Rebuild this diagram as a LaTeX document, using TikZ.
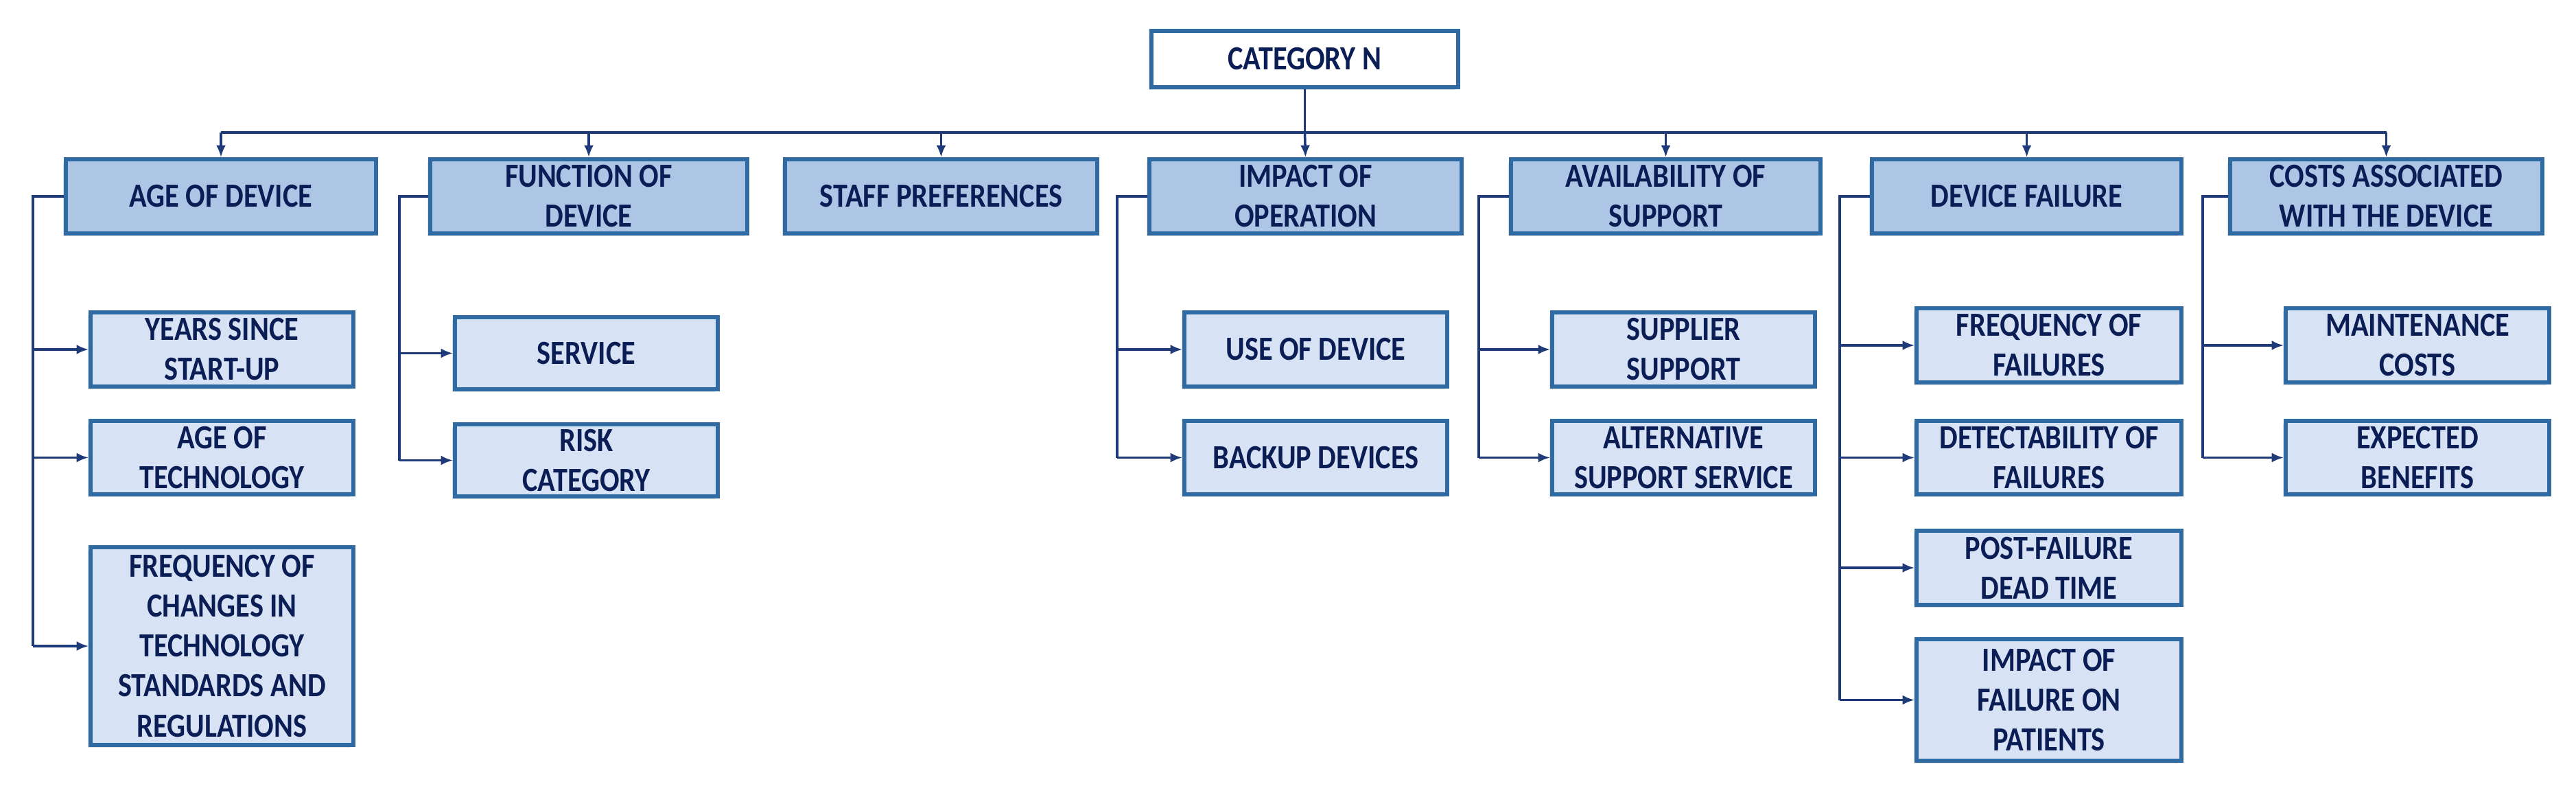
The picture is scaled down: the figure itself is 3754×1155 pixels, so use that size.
\documentclass[tikz,border=0pt]{standalone}
\usepackage{fontspec}
\setmainfont{Carlito}[FakeStretch=0.86]
\usetikzlibrary{arrows.meta}
\definecolor{topf}{HTML}{AEC6E6}
\definecolor{subf}{HTML}{D7E3F4}
\definecolor{bord}{HTML}{2F6AA3}
\definecolor{txt}{HTML}{0B1D55}
\definecolor{ln}{HTML}{1E3A78}
\newcommand\mybox[7]{\node[#1,minimum width={(#4-#3)*0.01cm},minimum height={(#6-#5)*0.01cm}] (#2) at ({(#3+#4)/2},{(#5+#6)/2}) {#7};}
\begin{document}
\begin{tikzpicture}[x=0.01cm,y=-0.01cm,
 base/.style={draw=bord,line width=1.6pt,inner sep=0pt,align=center,text=txt,
   font=\fontsize{14}{16.5}\selectfont\bfseries,
   preaction={fill=black!25,opacity=0.5,transform canvas={xshift=-1.2pt,yshift=-1.2pt}}},
 top/.style={base,fill=topf},
 sub/.style={base,fill=subf},
 root/.style={base,fill=white},
 conn/.style={draw=ln,line width=1pt},
 arr/.style={conn,-{Latex[length=5pt,width=4pt]}}]
\useasboundingbox (0,0) rectangle (3754,1155);
\mybox{root}{cat}{1678}{2125}{45}{127}{CATEGORY N}
\mybox{top}{age}{96}{548}{232}{340}{AGE OF DEVICE}
\mybox{top}{fun}{627}{1089}{232}{340}{FUNCTION OF\\DEVICE}
\mybox{top}{sta}{1144}{1599}{232}{340}{STAFF PREFERENCES}
\mybox{top}{imp}{1675}{2130}{232}{340}{IMPACT OF\\OPERATION}
\mybox{top}{ava}{2202}{2653}{232}{340}{AVAILABILITY OF\\SUPPORT}
\mybox{top}{dev}{2728}{3179}{232}{340}{DEVICE FAILURE}
\mybox{top}{cos}{3250}{3705}{232}{340}{COSTS ASSOCIATED\\WITH THE DEVICE}
% children
\mybox{sub}{a1}{132}{515}{455}{563}{YEARS SINCE\\START-UP}
\mybox{sub}{a2}{132}{515}{613}{720}{AGE OF\\TECHNOLOGY}
\mybox{sub}{a3}{132}{515}{797}{1085}{FREQUENCY OF\\CHANGES IN\\TECHNOLOGY\\STANDARDS AND\\REGULATIONS}
\mybox{sub}{f1}{663}{1046}{462}{567}{SERVICE}
\mybox{sub}{f2}{663}{1046}{618}{723}{RISK\\CATEGORY}
\mybox{sub}{i1}{1726}{2109}{455}{563}{USE OF DEVICE}
\mybox{sub}{i2}{1726}{2109}{613}{720}{BACKUP DEVICES}
\mybox{sub}{v1}{2262}{2645}{455}{563}{SUPPLIER\\SUPPORT}
\mybox{sub}{v2}{2262}{2645}{613}{720}{ALTERNATIVE\\SUPPORT SERVICE}
\mybox{sub}{d1}{2793}{3179}{449}{557}{FREQUENCY OF\\FAILURES}
\mybox{sub}{d2}{2793}{3179}{613}{720}{DETECTABILITY OF\\FAILURES}
\mybox{sub}{d3}{2793}{3179}{773}{881}{POST-FAILURE\\DEAD TIME}
\mybox{sub}{d4}{2793}{3179}{931}{1108}{IMPACT OF\\FAILURE ON\\PATIENTS}
\mybox{sub}{c1}{3331}{3715}{449}{557}{MAINTENANCE\\COSTS}
\mybox{sub}{c2}{3331}{3715}{613}{720}{EXPECTED\\BENEFITS}
% bus
\coordinate (bus) at (0,193);
\draw[conn] (cat.south) -- (cat.south |- bus);
\draw[conn] (age.north |- bus) -- (cos.north |- bus);
\foreach \n in {age,fun,sta,ava,dev,cos} \draw[arr] (\n.north |- bus) -- (\n.north);
\draw[arr] (cat.south |- bus) -- (imp.north);
% spines
\coordinate (sa) at (48,0); \coordinate (sf) at (582,0); \coordinate (si) at (1628,0);
\coordinate (sv) at (2155,0); \coordinate (sd) at (2681,0); \coordinate (sc) at (3210,0);
\draw[conn] (age.west) -- (age.west -| sa) -- (a3.west -| sa);
\foreach \c in {a1,a2,a3} \draw[arr] (\c.west -| sa) -- (\c.west);
\draw[conn] (fun.west) -- (fun.west -| sf) -- (f2.west -| sf);
\foreach \c in {f1,f2} \draw[arr] (\c.west -| sf) -- (\c.west);
\draw[conn] (imp.west) -- (imp.west -| si) -- (i2.west -| si);
\foreach \c in {i1,i2} \draw[arr] (\c.west -| si) -- (\c.west);
\draw[conn] (ava.west) -- (ava.west -| sv) -- (v2.west -| sv);
\foreach \c in {v1,v2} \draw[arr] (\c.west -| sv) -- (\c.west);
\draw[conn] (dev.west) -- (dev.west -| sd) -- (d4.west -| sd);
\foreach \c in {d1,d2,d3,d4} \draw[arr] (\c.west -| sd) -- (\c.west);
\draw[conn] (cos.west) -- (cos.west -| sc) -- (c2.west -| sc);
\foreach \c in {c1,c2} \draw[arr] (\c.west -| sc) -- (\c.west);
\end{tikzpicture}
\end{document}
